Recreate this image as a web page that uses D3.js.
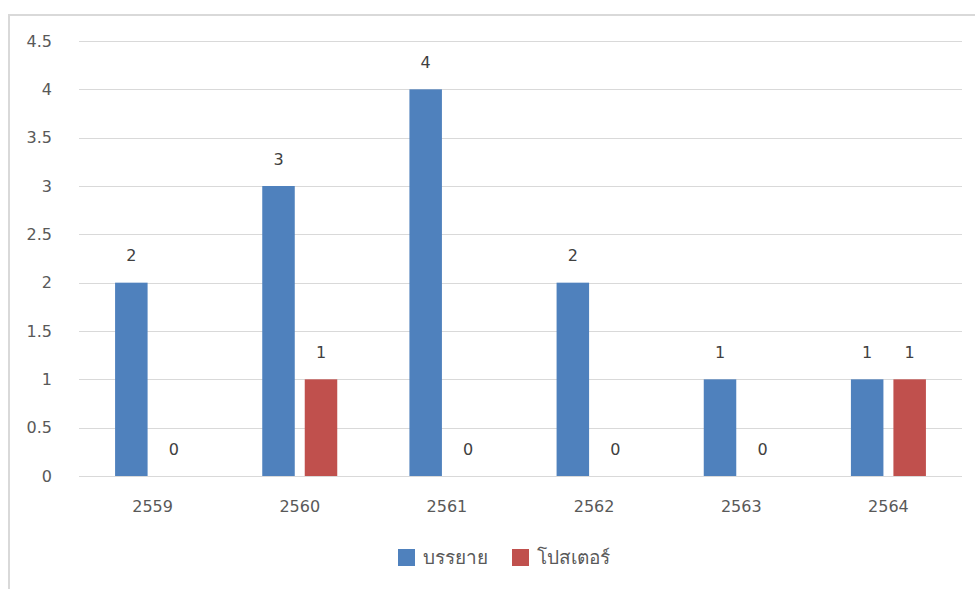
<!DOCTYPE html>
<html><head><meta charset="utf-8">
<script src="https://cdn.jsdelivr.net/npm/d3@7"></script>
<style>body{margin:0;background:#fff}svg{display:block;font-family:"DejaVu Sans","Noto Sans",sans-serif}</style>
</head><body><svg id="c" width="975" height="589"></svg>
<script>
const categories = ["2559","2560","2561","2562","2563","2564"];
const seriesNames = ["บรรยาย","โปสเตอร์"];
const lecture = [2,3,4,2,1,1];
const poster = [0,1,0,0,0,1];
const yTicks = [0,0.5,1,1.5,2,2.5,3,3.5,4,4.5];
const colors = ["#4f81bd","#c0504d"];

const svg = d3.select("#c");
const W = 975, H = 589;
const plot = {left:79, right:962, top:41, bottom:476};

// frame
svg.append("path").attr("d", `M9,${H} L9,15 L${W},15`).attr("fill","none").attr("stroke","#d9d9d9").attr("stroke-width",2);

const x0 = d3.scaleBand().domain(categories).range([plot.left, plot.right]).padding(0);
const groupW = 75;
const x1 = d3.scaleBand().domain(seriesNames).range([0, groupW]).paddingInner(0.235).paddingOuter(0);
const y = d3.scaleLinear().domain([0,4.5]).range([plot.bottom, plot.top]);

// grid
svg.append("g").selectAll("line").data(yTicks).join("line")
  .attr("x1", plot.left).attr("x2", plot.right)
  .attr("y1", d=>Math.round(y(d))+0.5).attr("y2", d=>Math.round(y(d))+0.5)
  .attr("stroke","#d9d9d9").attr("stroke-width",1);

// y labels
svg.append("g").selectAll("text").data(yTicks).join("text")
  .attr("x", 52).attr("y", d=>y(d)).attr("dy","0.35em").attr("text-anchor","end")
  .attr("font-size",16).attr("fill","#595959").text(d=>d);

// x labels
svg.append("g").selectAll("text").data(categories).join("text")
  .attr("x", d=>x0(d)+x0.bandwidth()/2).attr("y", 506).attr("dy","0.35em").attr("text-anchor","middle")
  .attr("font-size",16).attr("fill","#595959").text(d=>d);

const data = [];
categories.forEach((c,i)=>{
  data.push({cat:c, s:seriesNames[0], v:lecture[i], col:colors[0]});
  data.push({cat:c, s:seriesNames[1], v:poster[i], col:colors[1]});
});
const off = (x0.bandwidth()-groupW)/2;
const g = svg.append("g");
g.selectAll("rect").data(data.filter(d=>d.v>0)).join("rect")
  .attr("x", d=>x0(d.cat)+off+x1(d.s)).attr("width", x1.bandwidth())
  .attr("y", d=>y(d.v)).attr("height", d=>y(0)-y(d.v)).attr("fill", d=>d.col);
g.selectAll("text").data(data).join("text")
  .attr("x", d=>x0(d.cat)+off+x1(d.s)+x1.bandwidth()/2)
  .attr("y", d=>y(d.v)-27).attr("dy","0.35em").attr("text-anchor","middle")
  .attr("font-size",16).attr("fill","#404040").text(d=>d.v);

// legend
const leg = svg.append("g");
const legX = [398, 512];
seriesNames.forEach((s,i)=>{
  leg.append("rect").attr("x",legX[i]).attr("y",549).attr("width",17).attr("height",17).attr("fill",colors[i]);
  leg.append("text").attr("x",legX[i]+25).attr("y",557).attr("dy","0.35em").attr("font-size",19).attr("fill","#595959").text(s);
});
</script></body></html>
